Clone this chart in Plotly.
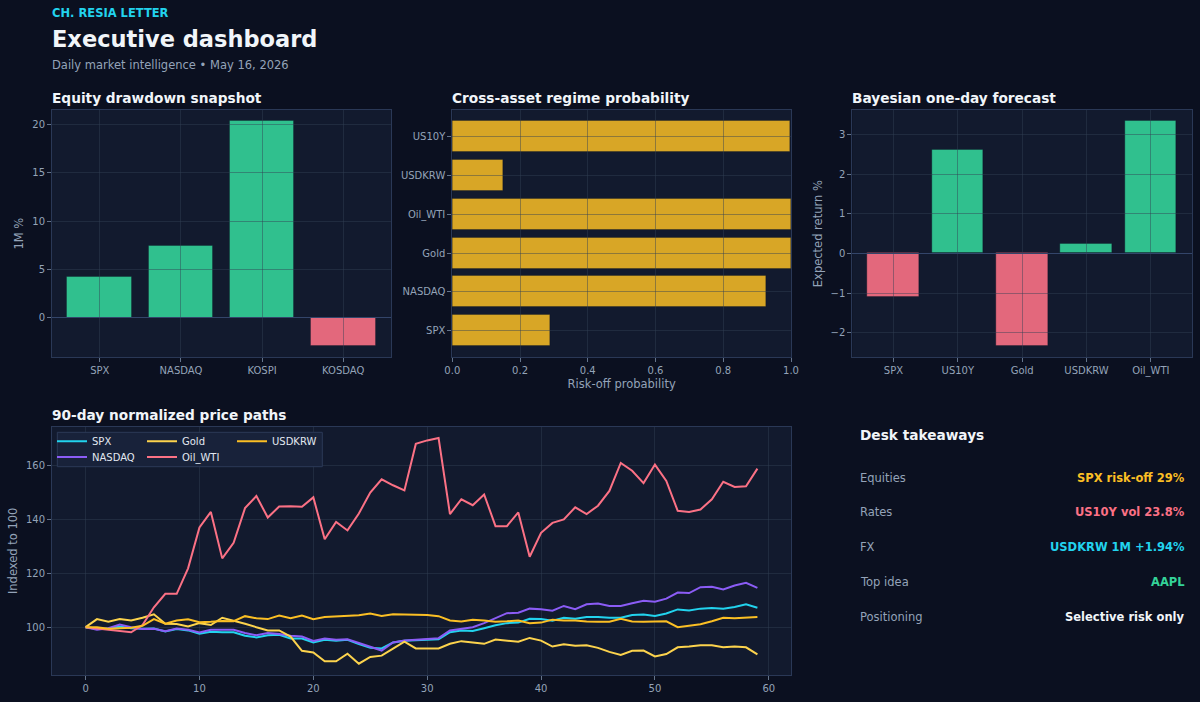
import plotly.graph_objects as go

W, H = 1200, 702

# ---------------- data ----------------
eq_names = ["SPX", "NASDAQ", "KOSPI", "KOSDAQ"]
eq_values = [4.2, 7.4, 20.3, -2.9]

regime_names = ["SPX", "NASDAQ", "Gold", "Oil_WTI", "USDKRW", "US10Y"]
regime_probs = [0.289, 0.927, 1.0, 1.0, 0.152, 0.998]

fc_names = ["SPX", "US10Y", "Gold", "USDKRW", "Oil_WTI"]
fc_values = [-1.10, 2.62, -2.34, 0.235, 3.34]

days = list(range(60))
spx = [100, 99.3, 99.5, 100.2, 99.6, 99.4, 99.5, 98.4, 99.3, 98.8,
       97.6, 98.3, 98.1, 98.1, 96.8, 96.2, 97.0, 97.2, 95.8, 95.8,
       94.3, 95.3, 94.9, 95.3, 93.7, 92.3, 92.1, 94.3, 94.9, 95.2,
       95.3, 95.5, 98.1, 98.8, 98.6, 99.6, 100.7, 101.5, 101.7, 103.1,
       103.0, 102.4, 103.5, 103.1, 103.8, 103.8, 103.5, 103.5, 104.5, 104.7,
       104.2, 105.1, 106.6, 106.2, 106.9, 107.1, 106.9, 107.5, 108.5, 107.2]
nasdaq = [100, 99.0, 99.6, 101.0, 100.0, 99.3, 99.4, 98.5, 99.5, 99.0,
          98.0, 99.0, 99.0, 99.0, 97.8, 97.0, 97.8, 97.5, 96.8, 96.5,
          94.9, 95.8, 95.3, 95.5, 94.1, 92.6, 91.3, 94.3, 95.0, 95.3,
          95.5, 95.9, 98.8, 99.5, 100.0, 101.5, 103.5, 105.2, 105.4, 106.9,
          106.7, 106.1, 107.9, 106.7, 108.5, 108.8, 107.9, 107.9, 108.9, 109.8,
          109.5, 110.6, 112.9, 112.7, 114.9, 115.0, 114.0, 115.5, 116.5, 114.6]
gold = [100, 103.0, 102.0, 103.0, 102.5, 103.5, 104.8, 101.3, 101.2, 100.3,
        101.5, 100.8, 103.5, 102.5, 101.3, 100.0, 98.8, 98.8, 96.5, 91.2,
        90.6, 87.3, 87.3, 90.1, 86.4, 88.9, 89.4, 92.0, 94.6, 92.1,
        92.1, 92.1, 93.8, 94.8, 94.3, 93.8, 95.4, 94.9, 94.6, 96.0,
        95.0, 92.8, 93.6, 93.1, 93.3, 92.3, 90.8, 89.7, 91.2, 91.3,
        89.1, 90.0, 92.5, 92.8, 93.3, 93.3, 92.5, 92.8, 92.5, 89.9]
oil_wti = [100, 99.5, 99.0, 98.5, 98.1, 100.8, 107.4, 112.4, 112.4, 121.9,
           137.1, 142.9, 125.6, 131.4, 144.3, 148.8, 140.8, 144.9, 145.0, 144.8,
           148.3, 132.7, 139.2, 136.0, 142.3, 150.1, 155.0, 152.8, 150.9, 168.2,
           169.5, 170.4, 142.1, 147.6, 145.4, 149.4, 137.6, 137.6, 142.7, 126.2,
           135.1, 138.8, 140.1, 144.6, 142.1, 145.2, 150.7, 161.1, 158.2, 153.6,
           160.5, 154.4, 143.3, 142.9, 143.8, 147.6, 154.1, 152.2, 152.4, 159.0]
usdkrw = [100, 100.0, 99.4, 99.5, 99.8, 100.5, 103.0, 101.3, 102.5, 102.9,
          101.8, 102.0, 102.3, 102.2, 104.1, 103.3, 103.0, 104.3, 103.3, 104.3,
          103.0, 103.8, 104.0, 104.4, 104.4, 105.1, 104.2, 104.8, 104.7, 104.6,
          104.5, 104.1, 102.5, 102.1, 102.8, 102.5, 102.0, 102.2, 102.5, 101.5,
          101.7, 102.8, 102.5, 102.5, 102.1, 102.0, 102.0, 103.1, 102.1, 102.0,
          102.2, 102.2, 100.0, 100.6, 101.1, 102.2, 103.5, 103.3, 103.6, 103.8]

series_names = ["SPX", "NASDAQ", "Gold", "Oil_WTI", "USDKRW"]
series_values = [spx, nasdaq, gold, oil_wti, usdkrw]
series_colors = ["#22d3ee", "#8b5cf6", "#fcd34d", "#fb7185", "#fbbf24"]
series_legend = ["legend", "legend2", "legend", "legend2", "legend"]

takeaway_labels = ["Equities", "Rates", "FX", "Top idea", "Positioning"]
takeaway_values = ["SPX risk-off 29%", "US10Y vol 23.8%", "USDKRW 1M +1.94%", "AAPL", "Selective risk only"]
takeaway_colors = ["#fbbf24", "#fb7185", "#22d3ee", "#34d399", "#f1f5f9"]

# ---------------- style ----------------
FONT = "DejaVu Sans"
FIG_BG = "#0b1020"
PANEL_BG = "#121a2e"
SPINE = "#2a3856"
GRID = "rgba(51,65,85,0.45)"
TICK = "#94a3b8"
WHITE = "#f1f5f9"
GREEN = "rgba(52,211,153,0.9)"
RED = "rgba(251,113,133,0.9)"
AMBER = "rgba(251,191,36,0.85)"


def cat_range(n):
    lo, hi = -0.4, n - 1 + 0.4
    m = 0.05 * (hi - lo)
    return [lo - m, hi + m]


def val_range(vals, include_zero=True):
    lo, hi = min(vals), max(vals)
    if include_zero:
        lo, hi = min(lo, 0), max(hi, 0)
    m = 0.05 * (hi - lo)
    return [lo - m, hi + m]


def px2x(p):
    return p / W


def px2y(p):
    return 1 - p / H


top_y = [px2y(357.3), px2y(110)]
eq_x = [px2x(52), px2x(391)]
rg_x = [px2x(452.3), px2x(791)]
fc_x = [px2x(852.3), px2x(1192)]
ln_x = [px2x(52), px2x(791)]
ln_y = [px2y(675), px2y(426.7)]

fig = go.Figure()

# Equity bars
fig.add_trace(go.Bar(
    x=list(range(len(eq_names))), y=eq_values, width=0.8,
    marker=dict(color=[GREEN if v >= 0 else RED for v in eq_values],
                line=dict(color="rgba(11,16,32,0.3)", width=1)),
    xaxis="x", yaxis="y", showlegend=False, hoverinfo="skip"))

# Regime bars
fig.add_trace(go.Bar(
    x=regime_probs, y=list(range(len(regime_names))), orientation="h", width=0.8,
    marker=dict(color=AMBER, line=dict(color="rgba(11,16,32,0.3)", width=1)),
    xaxis="x2", yaxis="y2", showlegend=False, hoverinfo="skip"))

# Forecast bars
fig.add_trace(go.Bar(
    x=list(range(len(fc_names))), y=fc_values, width=0.8,
    marker=dict(color=[GREEN if v >= 0 else RED for v in fc_values],
                line=dict(color="rgba(11,16,32,0.3)", width=1)),
    xaxis="x3", yaxis="y3", showlegend=False, hoverinfo="skip"))

# Price paths
for name, vals, col, lg in zip(series_names, series_values, series_colors, series_legend):
    fig.add_trace(go.Scatter(
        x=days, y=vals, mode="lines", name=name,
        line=dict(color=col, width=2), xaxis="x4", yaxis="y4", legend=lg))

# empty traces for grid overlay subplots
for i in (5, 6, 7):
    fig.add_trace(go.Scatter(x=[], y=[], xaxis=f"x{i}", yaxis=f"y{i}",
                             showlegend=False, hoverinfo="skip"))

base_axis = dict(showline=True, mirror=True, linecolor=SPINE, linewidth=1,
                 ticks="outside", ticklen=4, tickcolor="#64748b", tickwidth=1,
                 tickfont=dict(family=FONT, size=10, color=TICK),
                 showgrid=False, zeroline=False, fixedrange=True)
title_font = dict(family=FONT, size=11.5, color=TICK)
grid_axis = dict(showgrid=True, gridcolor=GRID, gridwidth=1, showticklabels=False,
                 ticks="", showline=False, zeroline=False, fixedrange=True)

eq_xr = cat_range(len(eq_names))
eq_yr = val_range(eq_values)
rg_yr = cat_range(len(regime_names))
fc_xr = cat_range(len(fc_names))
fc_yr = val_range(fc_values)
all_vals = [v for s in series_values for v in s]
ln_yr = val_range(all_vals, include_zero=False)
ln_xr = val_range(days, include_zero=False)

fig.update_layout(
    xaxis=dict(base_axis, domain=eq_x, anchor="y", range=eq_xr,
               tickmode="array", tickvals=list(range(len(eq_names))), ticktext=eq_names),
    yaxis=dict(base_axis, domain=top_y, anchor="x", range=eq_yr, dtick=5,
               title=dict(text="1M %", font=title_font, standoff=6)),
    xaxis2=dict(base_axis, domain=rg_x, anchor="y2", range=[0, 1], dtick=0.2, tickformat=".1f",
                title=dict(text="Risk-off probability", font=title_font, standoff=4)),
    yaxis2=dict(base_axis, domain=top_y, anchor="x2", range=rg_yr,
                tickmode="array", tickvals=list(range(len(regime_names))), ticktext=regime_names),
    xaxis3=dict(base_axis, domain=fc_x, anchor="y3", range=fc_xr,
                tickmode="array", tickvals=list(range(len(fc_names))), ticktext=fc_names),
    yaxis3=dict(base_axis, domain=top_y, anchor="x3", range=fc_yr, dtick=1,
                title=dict(text="Expected return %", font=title_font, standoff=5)),
    xaxis4=dict(base_axis, domain=ln_x, anchor="y4", range=ln_xr, dtick=10,
                showgrid=True, gridcolor=GRID),
    yaxis4=dict(base_axis, domain=ln_y, anchor="x4", range=ln_yr, dtick=20,
                showgrid=True, gridcolor=GRID,
                title=dict(text="Indexed to 100", font=title_font, standoff=5)),
    # grid overlays drawn above the bars
    xaxis5=dict(grid_axis, domain=eq_x, anchor="y5", range=eq_xr,
                tickmode="array", tickvals=list(range(len(eq_names)))),
    yaxis5=dict(grid_axis, domain=top_y, anchor="x5", range=eq_yr, dtick=5,
                zeroline=True, zerolinecolor="#33456a", zerolinewidth=1.3),
    xaxis6=dict(grid_axis, domain=rg_x, anchor="y6", range=[0, 1], dtick=0.2),
    yaxis6=dict(grid_axis, domain=top_y, anchor="x6", range=rg_yr,
                tickmode="array", tickvals=list(range(len(regime_names)))),
    xaxis7=dict(grid_axis, domain=fc_x, anchor="y7", range=fc_xr,
                tickmode="array", tickvals=list(range(len(fc_names)))),
    yaxis7=dict(grid_axis, domain=top_y, anchor="x7", range=fc_yr, dtick=1,
                zeroline=True, zerolinecolor="#33456a", zerolinewidth=1.3),
)

# panel backgrounds + legend box
shapes = []
for xd, yd in ((eq_x, top_y), (rg_x, top_y), (fc_x, top_y), (ln_x, ln_y)):
    shapes.append(dict(type="rect", xref="paper", yref="paper", x0=xd[0], x1=xd[1],
                       y0=yd[0], y1=yd[1], fillcolor=PANEL_BG, line=dict(width=0),
                       layer="below"))
shapes.append(dict(type="rect", xref="paper", yref="paper",
                   x0=px2x(57.3), x1=px2x(322.3), y0=px2y(466.7), y1=px2y(432.3),
                   fillcolor="#18223a", line=dict(color="#2c3a58", width=1), layer="above"))

ann = []


def text(x, y, s, size, color, bold=False, anchor="left"):
    ann.append(dict(x=px2x(x), y=px2y(y), xref="paper", yref="paper", text=s,
                    showarrow=False, xanchor=anchor, yanchor="middle", borderpad=0,
                    font=dict(family=FONT, size=size, color=color,
                              weight="bold" if bold else "normal")))


text(51, 13, "CH. RESIA LETTER", 11.5, "#22d3ee", True)
text(51, 39.5, "Executive dashboard", 22.5, WHITE, True)
text(51, 65, "Daily market intelligence \u2022 May 16, 2026", 11.5, TICK)
text(51, 98, "Equity drawdown snapshot", 13.7, WHITE, True)
text(451, 98, "Cross-asset regime probability", 13.7, WHITE, True)
text(851, 98, "Bayesian one-day forecast", 13.7, WHITE, True)
text(51, 415, "90-day normalized price paths", 13.7, WHITE, True)
text(859, 435, "Desk takeaways", 13.7, WHITE, True)
row_y = [477.7, 512.3, 546.7, 581.7, 616.7]
for lab, val, col, yy in zip(takeaway_labels, takeaway_values, takeaway_colors, row_y):
    text(859, yy, lab, 11.5, TICK)
    text(1186, yy, val, 11.5, col, True, anchor="right")

legend_common = dict(orientation="h", bgcolor="rgba(0,0,0,0)", borderwidth=0,
                     font=dict(family=FONT, size=10, color="#e2e8f0"),
                     xref="paper", yref="paper", xanchor="left", yanchor="middle",
                     entrywidth=45, entrywidthmode="pixels", itemclick=False,
                     itemdoubleclick=False, tracegroupgap=0)

fig.update_layout(
    width=W, height=H, autosize=False,
    margin=dict(l=0, r=0, t=0, b=0, pad=0, autoexpand=False),
    paper_bgcolor=FIG_BG, plot_bgcolor="rgba(0,0,0,0)",
    font=dict(family=FONT, color=TICK),
    shapes=shapes, annotations=ann,
    showlegend=True,
    legend=dict(legend_common, x=px2x(52), y=px2y(441.3)),
    legend2=dict(legend_common, x=px2x(52), y=px2y(457)),
    bargap=0,
)

fig.write_html("out.html", config={"displayModeBar": False},
               post_script="document.body.style.margin='0';document.body.style.background='#0b1020';")
